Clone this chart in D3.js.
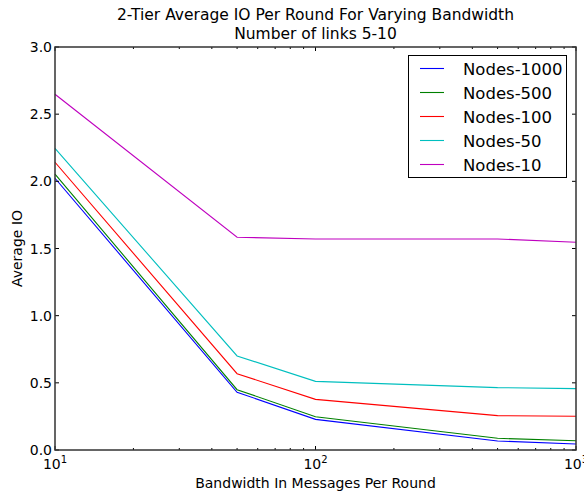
<!DOCTYPE html>
<html><head><meta charset="utf-8">
<script src="https://cdn.jsdelivr.net/npm/d3@7"></script>
<style>body{margin:0;background:#fff}svg{display:block}text{font-family:"DejaVu Sans",sans-serif}</style>
</head><body>
<script>
const bandwidth = [10, 50, 100, 500, 1000];
const seriesNames = ["Nodes-1000", "Nodes-500", "Nodes-100", "Nodes-50", "Nodes-10"];
const nodes1000 = [2.023, 0.430, 0.228, 0.067, 0.045];
const nodes500  = [2.053, 0.449, 0.248, 0.087, 0.069];
const nodes100  = [2.142, 0.568, 0.377, 0.256, 0.251];
const nodes50   = [2.246, 0.700, 0.511, 0.464, 0.457];
const nodes10   = [2.648, 1.584, 1.571, 1.571, 1.547];
const colors = ["#0000ff", "#008000", "#ff0000", "#00bfbf", "#bf00bf"];
const yTicks = [0, 0.5, 1.0, 1.5, 2.0, 2.5, 3.0];
const xMajor = [10, 100, 1000];
const titleLines = ["2-Tier Average IO Per Round For Varying Bandwidth", "Number of links 5-10"];
const xLabel = "Bandwidth In Messages Per Round";
const yLabel = "Average IO";

const seriesValues = [nodes1000, nodes500, nodes100, nodes50, nodes10];
const W = 584, H = 492;
const m = {l: 55, r: 576, t: 47, b: 450};
const svg = d3.select("body").append("svg").attr("width", W).attr("height", H);
const x = d3.scaleLog().domain([10, 1000]).range([m.l, m.r]);
const y = d3.scaleLinear().domain([0, 3]).range([m.b, m.t]);

// lines
const line = d3.line().x((d, i) => x(bandwidth[i])).y(d => y(d));
seriesValues.forEach((vals, k) => {
  svg.append("path").datum(vals).attr("d", line)
    .attr("fill", "none").attr("stroke", colors[k]).attr("stroke-width", 1.1);
});

// ticks
const minor = [];
for (let d = 10; d < 1000; d *= 10) for (let j = 2; j <= 9; j++) minor.push(j * d);
const tk = svg.append("g").attr("stroke", "#000").attr("stroke-width", 1);
xMajor.forEach(v => {
  tk.append("line").attr("x1", x(v)).attr("x2", x(v)).attr("y1", m.b).attr("y2", m.b - 4);
  tk.append("line").attr("x1", x(v)).attr("x2", x(v)).attr("y1", m.t).attr("y2", m.t + 4);
});
minor.forEach(v => {
  tk.append("line").attr("x1", x(v)).attr("x2", x(v)).attr("y1", m.b).attr("y2", m.b - 2);
  tk.append("line").attr("x1", x(v)).attr("x2", x(v)).attr("y1", m.t).attr("y2", m.t + 2);
});
yTicks.forEach(v => {
  tk.append("line").attr("x1", m.l).attr("x2", m.l + 4).attr("y1", y(v)).attr("y2", y(v));
  tk.append("line").attr("x1", m.r).attr("x2", m.r - 4).attr("y1", y(v)).attr("y2", y(v));
});

// frame
svg.append("rect").attr("x", m.l).attr("y", m.t).attr("width", m.r - m.l).attr("height", m.b - m.t)
  .attr("fill", "none").attr("stroke", "#333").attr("stroke-width", 1.5);

// y tick labels
yTicks.forEach(v => {
  svg.append("text").attr("x", m.l - 3).attr("y", y(v) + 5).attr("text-anchor", "end")
    .attr("font-size", 14).text(d3.format(".1f")(v));
});
// x tick labels
xMajor.forEach(v => {
  const t = svg.append("text").attr("x", x(v)).attr("y", m.b + 19).attr("text-anchor", "middle").attr("font-size", 14);
  t.append("tspan").text("10");
  t.append("tspan").attr("dy", -6).attr("font-size", 10).text(Math.round(Math.log10(v)));
});

// axis labels
svg.append("text").attr("x", (m.l + m.r) / 2).attr("y", 488).attr("text-anchor", "middle")
  .attr("font-size", 14).text(xLabel);
svg.append("text").attr("transform", `translate(22,${(m.t + m.b) / 2}) rotate(-90)`)
  .attr("text-anchor", "middle").attr("font-size", 14).text(yLabel);

// title
titleLines.forEach((s, i) => {
  svg.append("text").attr("x", (m.l + m.r) / 2).attr("y", 20 + i * 19).attr("text-anchor", "middle")
    .attr("font-size", 15.5).text(s);
});

// legend
const lg = svg.append("g");
lg.append("rect").attr("x", 408.5).attr("y", 55.5).attr("width", 158).attr("height", 122)
  .attr("fill", "#fff").attr("stroke", "#000").attr("stroke-width", 1);
seriesNames.forEach((n, k) => {
  const yy = 68.5 + k * 24;
  lg.append("line").attr("x1", 420).attr("x2", 444).attr("y1", yy).attr("y2", yy)
    .attr("stroke", colors[k]).attr("stroke-width", 1.1);
  lg.append("text").attr("x", 463).attr("y", yy + 6).attr("font-size", 16.5).text(n);
});
</script>
</body></html>
